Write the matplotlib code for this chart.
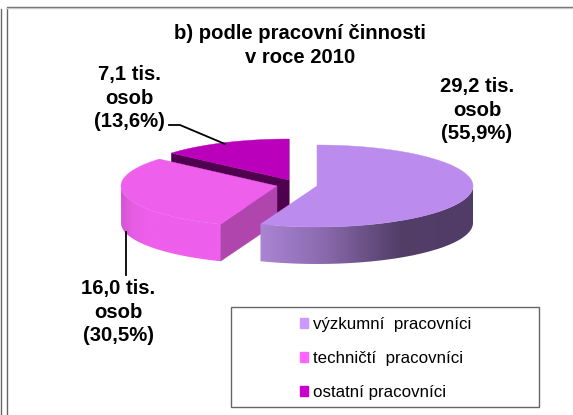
import numpy as np
import matplotlib
matplotlib.use('Agg')
import matplotlib.pyplot as plt
from matplotlib.patches import PathPatch, Patch, Rectangle
from matplotlib.path import Path
from matplotlib.colors import LinearSegmentedColormap

plt.rcParams['font.family'] = ['Liberation Sans', 'DejaVu Sans']

# Data
categories = ['výzkumní  pracovníci', 'techničtí  pracovníci', 'ostatní pracovníci']
shares = [55.9, 30.5, 13.6]
thousands = ['29,2', '16,0', '7,1']
share_labels = ['55,9', '30,5', '13,6']
title = 'b) podle pracovní činnosti\nv roce 2010'

legend_colors = ['#cc99ff', '#ff66ff', '#cc00cc']
top_colors = ['#bb8cee', '#ee5fec', '#bb00bb']

# Pie geometry, in pixels
RX, RY, DEPTH = 156, 41, 37
apex = [(317, 186), (277, 186), (289, 180)]

fig = plt.figure(figsize=(5.73, 4.15), dpi=100)
ax = fig.add_axes([0, 0, 1, 1])
ax.set_xlim(0, 573)
ax.set_ylim(415, 0)
ax.axis('off')


def rim(center, a0, a1, dy=0):
    # Points on the pie rim, angles in degrees clockwise from 12 o'clock
    t = np.radians(np.linspace(a0, a1, 80))
    return np.column_stack([center[0] + RX * np.sin(t), center[1] + dy - RY * np.cos(t)])


def polygon(points, color, zorder):
    patch = PathPatch(Path(np.vstack([points, points[:1]])), facecolor=color,
                      edgecolor=color, linewidth=0.3, zorder=zorder)
    ax.add_patch(patch)
    return patch


def wall(center, a0, a1, stops, zorder):
    # Outer wall of a slice, filled with a horizontal gradient
    pts = np.vstack([rim(center, a0, a1), rim(center, a0, a1, DEPTH)[::-1]])
    clip = polygon(pts, 'none', zorder)
    cmap = LinearSegmentedColormap.from_list('wall', stops)
    x0, x1 = pts[:, 0].min(), pts[:, 0].max()
    y0, y1 = pts[:, 1].min(), pts[:, 1].max()
    im = ax.imshow(np.linspace(0, 1, 256).reshape(1, -1), cmap=cmap, aspect='auto',
                   extent=[x0, x1, y1, y0], zorder=zorder, interpolation='bilinear')
    im.set_clip_path(clip)
    ax.set_xlim(0, 573)
    ax.set_ylim(415, 0)


def side_face(center, angle, color, zorder):
    edge = rim(center, angle, angle, 0)[0]
    polygon(np.array([center, edge, edge + [0, DEPTH], np.array(center) + [0, DEPTH]]), color, zorder)


edges = np.concatenate([[0], np.cumsum(shares)]) * 3.6

# Back slice first, so that the nearer ones cover it
side_face(apex[2], edges[3], '#4f004f', 2)
side_face(apex[2], edges[2], '#4f004f', 2)
polygon(np.vstack([[apex[2]], rim(apex[2], edges[2], edges[3])]), top_colors[2], 3)

wall(apex[1], edges[1], 270, [(0, '#d455d2'), (0.12, '#e65ce4'), (0.25, '#ee5fec'), (1, '#ee5fec')], 4)
side_face(apex[1], edges[1], '#b045ae', 5)
polygon(np.vstack([[apex[1]], rim(apex[1], edges[1], edges[2])]), top_colors[1], 6)

wall(apex[0], 90, edges[1], [(0, '#ab85d3'), (0.3, '#8a6aae'), (0.65, '#533e68'), (1, '#503c66')], 7)
polygon(np.vstack([[apex[0]], rim(apex[0], edges[0], edges[1])]), top_colors[0], 8)

# Frames
line = '#666666'
ax.plot([6.5, 6.5, 573], [415, 7.5, 7.5], color=line, lw=1, zorder=1)
ax.plot([6.5, 573], [8.5, 8.5], color='#c8c8c8', lw=1, zorder=1)
ax.plot([0.5, 0.5], [9, 415], color=line, lw=1, zorder=1)

# Title and data labels
ax.text(300, 45.5, title, ha='center', va='center', fontsize=14.6, fontweight='bold', linespacing=1.32)
label_pos = [(477, 110), (118, 312), (129, 98)]
for (x, y), t, s in zip(label_pos, thousands, share_labels):
    ax.text(x, y, f'{t} tis.\nosob\n({s}%)', ha='center', va='center',
            fontsize=14.6, fontweight='bold', linespacing=1.32, zorder=10)

# Leader lines
ax.plot([169, 180, 225], [125, 125, 144], color='black', lw=1.3, zorder=9)
ax.plot([126, 126], [232, 275], color='black', lw=1.3, zorder=9)

# Legend
ax.add_patch(Rectangle((230.5, 306.5), 308, 100, facecolor='white', edgecolor=line, lw=1, zorder=1))
handles = [Patch(facecolor=c, edgecolor=c) for c in legend_colors]
ax.legend(handles, categories, loc='upper left', bbox_to_anchor=(300, 317),
          bbox_transform=ax.transData, frameon=False, fontsize=12.2, labelspacing=1.12,
          handlelength=0.5, handleheight=0.5, handletextpad=0.25, borderpad=0, borderaxespad=0)

fig.savefig('out.png', dpi=100)
